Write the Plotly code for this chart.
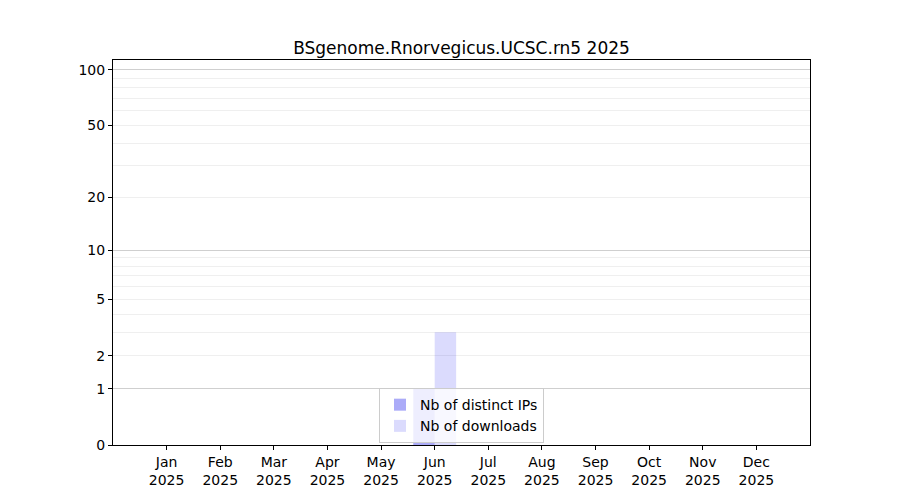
import numpy as np
import plotly.graph_objects as go

# --- data ---
months = ["Jan", "Feb", "Mar", "Apr", "May", "Jun",
          "Jul", "Aug", "Sep", "Oct", "Nov", "Dec"]
year = "2025"
distinct_ips = [0, 0, 0, 0, 0, 1, 0, 0, 0, 0, 0, 0]
downloads = [0, 0, 0, 0, 0, 3, 0, 0, 0, 0, 0, 0]

y_ticks = [0, 1, 2, 5, 10, 20, 50, 100]
y_major_grid = [1, 10, 100]
y_minor_grid = [2, 3, 4, 5, 6, 7, 8, 9, 20, 30, 40, 50, 60, 70, 80, 90]


# y axis is log10(1 + n), like the original "symlog"-ish scale
def tr(v):
    return np.log10(1 + np.asarray(v, dtype=float))


x = list(range(1, 13))
tick_text = [f"{m}<br>{year}" for m in months]

fig = go.Figure()
fig.add_trace(go.Bar(
    x=x, y=tr(distinct_ips), name="Nb of distinct IPs",
    marker=dict(color="rgba(0,0,235,0.33)", line=dict(width=0)),
))
fig.add_trace(go.Bar(
    x=x, y=tr(downloads), name="Nb of downloads",
    marker=dict(color="rgba(0,0,240,0.14)", line=dict(width=0)),
))

y_top = float(tr(113))

# the page puts the plot 8px in from the top-left, so margins are shifted
fig.update_layout(
    width=900, height=500,
    template="plotly_white",
    plot_bgcolor="white",
    paper_bgcolor="white",
    font=dict(family="DejaVu Sans", size=14, color="black"),
    title=dict(text="BSgenome.Rnorvegicus.UCSC.rn5 2025", xref="paper", x=0.5,
               xanchor="center", yref="paper", y=1, yanchor="bottom",
               pad=dict(b=6), font=dict(size=17, color="black")),
    margin=dict(l=105, r=98, t=52, b=63),
    barmode="group",
    bargap=0.2,
    bargroupgap=0,
    showlegend=True,
    legend=dict(x=0.5, xanchor="center", y=0.005, yanchor="bottom",
                bgcolor="rgba(255,255,255,0.8)", bordercolor="#cccccc", borderwidth=1,
                font=dict(size=14), traceorder="normal"),
    xaxis=dict(
        range=[0, 13], tickmode="array", tickvals=x, ticktext=tick_text,
        showgrid=False, zeroline=False,
        showline=True, linecolor="black", linewidth=1, mirror=True,
        ticks="outside", ticklen=4, tickcolor="black",
    ),
    yaxis=dict(
        range=[0, y_top], tickmode="array", tickvals=tr(y_ticks),
        ticktext=[str(t) for t in y_ticks],
        showgrid=False, zeroline=False,
        showline=True, linecolor="black", linewidth=1, mirror=True,
        ticks="outside", ticklen=4, tickcolor="black",
        minor=dict(tickmode="array", tickvals=tr(y_minor_grid), showgrid=True,
                   gridcolor="#efefef", gridwidth=1, ticks=""),
    ),
    yaxis2=dict(
        range=[0, y_top], overlaying="y", side="left",
        tickmode="array", tickvals=tr(y_major_grid),
        showticklabels=False, ticks="",
        showgrid=True, gridcolor="#cfcfcf", gridwidth=1,
        zeroline=False, showline=False,
    ),
)

# invisible trace to bring up the second y axis (grid only)
fig.add_trace(go.Scatter(x=[None], y=[None], yaxis="y2", showlegend=False,
                         hoverinfo="skip"))

fig.write_html("out.html")
